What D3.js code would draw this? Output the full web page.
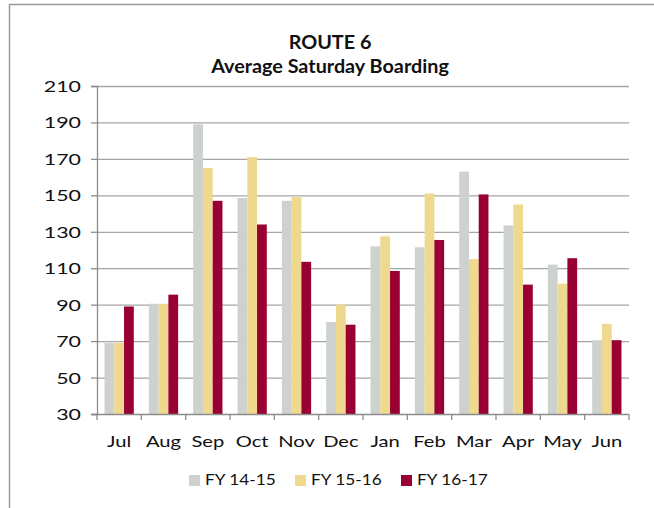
<!DOCTYPE html>
<html>
<head>
<meta charset="utf-8">
<script src="https://cdn.jsdelivr.net/npm/d3@7"></script>
<style>
  body { margin: 0; background: #fff; }
  svg text { font-family: Lato, "Open Sans", sans-serif; fill: #111; }
</style>
</head>
<body>
<svg id="chart" width="654" height="508"></svg>
<script>
const months = ["Jul", "Aug", "Sep", "Oct", "Nov", "Dec", "Jan", "Feb", "Mar", "Apr", "May", "Jun"];
const seriesNames = ["FY 14-15", "FY 15-16", "FY 16-17"];
const fy1415 = [69, 90.5, 189, 148.5, 147, 80.5, 122, 121.5, 163, 133.5, 112, 70.5];
const fy1516 = [69, 90.5, 165, 171, 149, 90, 127.5, 151, 115, 145, 101.5, 79.5];
const fy1617 = [89, 95.5, 147, 134, 113.5, 79, 108.5, 125.5, 150.5, 101, 115.5, 70.5];
const colors = ["#cdd2ce", "#efd98f", "#990033"];
const yTicks = [30, 50, 70, 90, 110, 130, 150, 170, 190, 210];

const svg = d3.select("#chart");
const margin = {top: 86, right: 25, bottom: 94, left: 97};
const width = 654 - margin.left - margin.right;
const height = 508 - margin.top - margin.bottom;

// the original picture is a bit wider than tall, so text is stretched sideways
function label(parent, x, y, txt, size, sx, anchor, bold) {
  return parent.append("text")
    .attr("transform", `translate(${x},${y}) scale(${sx},1)`)
    .attr("text-anchor", anchor)
    .attr("font-size", size)
    .attr("font-weight", bold ? "bold" : null)
    .text(txt);
}

// outer frame (only top and left visible)
svg.append("path")
  .attr("d", "M9.5,508 V4.5 H654")
  .attr("fill", "none").attr("stroke", "#9a9a9a").attr("stroke-width", 1.5);

label(svg, 330, 49, "ROUTE 6", 18.5, 1.07, "middle", true);
label(svg, 330, 73, "Average Saturday Boarding", 18.5, 1.07, "middle", true);

const g = svg.append("g").attr("transform", `translate(${margin.left},${margin.top})`);

const x = d3.scaleBand().domain(months).range([0, width]).paddingInner(0.34).paddingOuter(0.17);
const xs = d3.scaleBand().domain(d3.range(3)).range([0, x.bandwidth()]);
const y = d3.scaleLinear().domain([30, 210]).range([height, 0]);

// gridlines
g.append("g").selectAll("line").data(yTicks.slice(1)).join("line")
  .attr("x1", 0).attr("x2", width)
  .attr("y1", d => y(d) + 0.5).attr("y2", d => y(d) + 0.5)
  .attr("stroke", "#a6a6a6").attr("stroke-width", 1.3);

// bars
const data = [fy1415, fy1516, fy1617];
months.forEach((m, i) => {
  data.forEach((s, k) => {
    g.append("rect")
      .attr("x", x(m) + xs(k))
      .attr("y", y(s[i]))
      .attr("width", xs.bandwidth())
      .attr("height", y(30) - y(s[i]))
      .attr("fill", colors[k]);
  });
});

// y axis
const yAxis = g.append("g").call(d3.axisLeft(y).tickValues(yTicks).tickSize(6).tickPadding(16));
yAxis.select(".domain").attr("stroke", "#8c8c8c").attr("stroke-width", 1.3);
yAxis.selectAll(".tick line").attr("stroke", "#8c8c8c").attr("stroke-width", 1.3);
yAxis.selectAll(".tick text").remove();
yAxis.selectAll(".tick").each(function(d) {
  label(d3.select(this), -16, 5.5, d, 15.5, 1.38, "end", false);
});

// x axis: ticks at category boundaries
const xAxis = g.append("g").attr("transform", `translate(0,${height})`);
xAxis.append("line").attr("x1", -6).attr("x2", width).attr("y1", 0.5).attr("y2", 0.5)
  .attr("stroke", "#8c8c8c").attr("stroke-width", 1.3);
const step = width / months.length;
xAxis.selectAll(".bt").data(d3.range(months.length + 1)).join("line")
  .attr("x1", d => d * step).attr("x2", d => d * step)
  .attr("y1", 0).attr("y2", 6)
  .attr("stroke", "#8c8c8c").attr("stroke-width", 1.3);
months.forEach(m => {
  label(xAxis, x(m) + x.bandwidth() / 2, 33, m, 15.5, 1.3, "middle", false);
});

// legend
const legendX = [189, 295, 401];
seriesNames.forEach((name, i) => {
  svg.append("rect").attr("x", legendX[i]).attr("y", 475)
    .attr("width", 11).attr("height", 11).attr("fill", colors[i]);
  label(svg, legendX[i] + 16, 485, name, 16, 1.08, "start", false);
});
</script>
</body>
</html>
